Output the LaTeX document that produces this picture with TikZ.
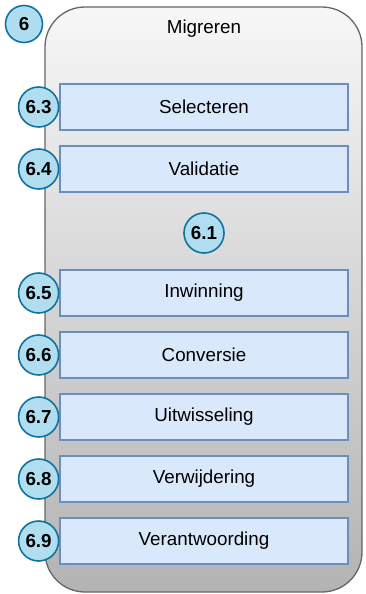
\documentclass[tikz,border=0pt]{standalone}
\usepackage{fontspec}
\setmainfont{Liberation Sans}
\definecolor{grijsrand}{HTML}{666666}
\definecolor{grijsboven}{HTML}{F7F7F7}
\definecolor{grijsonder}{HTML}{B3B3B3}
\definecolor{stapvul}{HTML}{DAE8FC}
\definecolor{staprand}{HTML}{6C8EBF}
\definecolor{rondvul}{HTML}{B1DDF0}
\definecolor{rondrand}{HTML}{10739E}
\begin{document}
\begin{tikzpicture}
  [x=1pt,y=-1pt,
   every node/.style={font=\fontsize{18.8}{22}\selectfont},
   stap/.style={rectangle,draw=staprand,fill=stapvul,line width=1.2pt,
                minimum width=288pt,minimum height=46pt},
   nummer/.style={circle,draw=rondrand,fill=rondvul,line width=1.6pt,
                  minimum size=40pt,inner sep=0pt,
                  font=\fontsize{18.8}{22}\selectfont\bfseries}]
  \useasboundingbox (0,0) rectangle (365,594);
  \shade[draw=grijsrand,line width=1.3pt,rounded corners=40pt,
         top color=grijsboven,bottom color=grijsonder] (45,7) rectangle (362,592);

  \node (n6)[nummer,minimum size=37pt] at (24,24) {6};
  \node (titel) at (204,29) {Migreren};

  \node (sel)[stap] at (204,107) {Selecteren};
  \node (val)[stap] at (204,169) {Validatie};
  \node (n61)[nummer] at (204,233) {6.1};
  \node (inw)[stap] at (204,293) {Inwinning};
  \node (con)[stap] at (204,355) {Conversie};
  \node (uit)[stap] at (204,417) {Uitwisseling};
  \node (ver)[stap] at (204,479) {Verwijdering};
  \node (vaw)[stap] at (204,541) {Verantwoording};

  \foreach \stap/\nr in {sel/6.3,val/6.4,inw/6.5,con/6.6,uit/6.7,ver/6.8,vaw/6.9}
    \node (n\stap)[nummer,anchor=east] at (\stap.west) {\nr};
\end{tikzpicture}
\end{document}
